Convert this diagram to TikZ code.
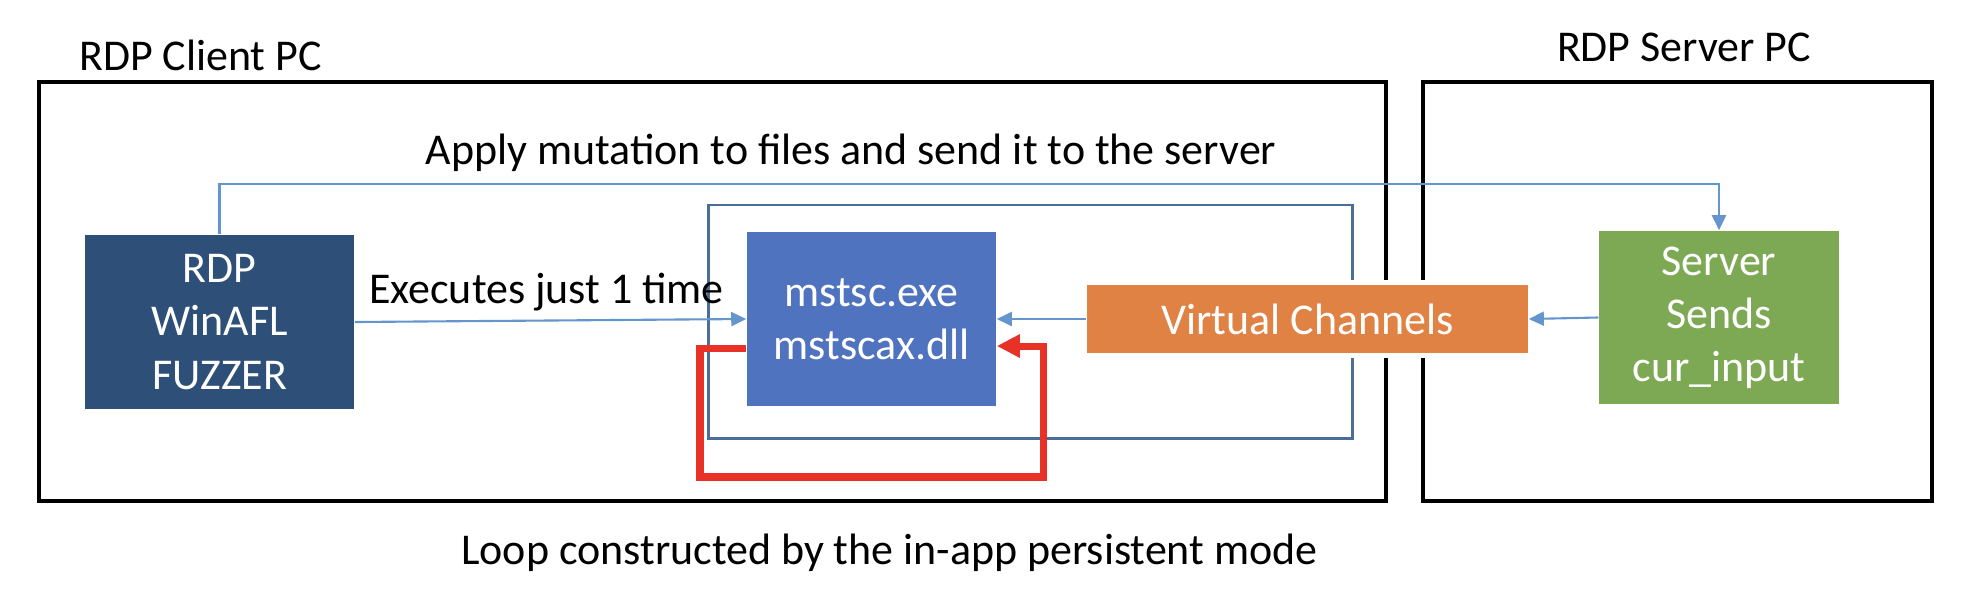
\documentclass[tikz,border=0pt]{standalone}
\usepackage{fontspec}
\setmainfont{Carlito}
\usetikzlibrary{arrows.meta,positioning}

\definecolor{fuzzblue}{RGB}{46,80,120}
\definecolor{appblue}{RGB}{79,115,190}
\definecolor{chanorange}{RGB}{224,130,68}
\definecolor{srvgreen}{RGB}{126,169,84}
\definecolor{framegray}{RGB}{74,110,153}
\definecolor{linkblue}{RGB}{100,150,205}
\definecolor{loopred}{RGB}{232,50,40}

\tikzset{
  block/.style={draw=none, text=white, align=center, inner sep=0pt, font=\fontsize{12.5}{15.1}\selectfont},
  link/.style={draw=linkblue, line width=0.6pt, -{Triangle[length=0.15cm,width=0.14cm]}},
  redloop/.style={draw=loopred, line width=2pt, -{Triangle[length=0.23cm,width=0.22cm]}},
  caption/.style={anchor=base, inner sep=0pt, font=\fontsize{12.5}{15.1}\selectfont}
}

\begin{document}
\begin{tikzpicture}[x=0.01cm, y=-0.01cm]
\useasboundingbox (0,0) rectangle (1980,606);

% Draw the two PCs
\draw[line width=1.1pt] (39,82) rectangle (1386,501);
\draw[line width=1.1pt] (1423,82) rectangle (1932,501);
\node[caption] (clientlabel) at (200.5,70) {RDP Client PC};
\node[caption] (serverlabel) at (1684,61) {RDP Server PC};

% Frame round the client application
\draw[framegray, line width=0.85pt] (708,205) rectangle (1352,438);

% Boxes
\node[block, fill=fuzzblue, minimum width=2.69cm, minimum height=1.74cm] (fuzz) at (219.5,322) {RDP\\WinAFL\\FUZZER};
\node[block, fill=appblue, minimum width=2.49cm, minimum height=1.74cm] (mstsc) at (871.5,319) {mstsc.exe\\mstscax.dll};
\node[block, fill=chanorange, minimum width=4.41cm, minimum height=0.68cm,
      preaction={draw=white, line width=0.09cm}] (vc) at (1307.5,319) {Virtual Channels};
\node[block, fill=srvgreen, minimum width=2.40cm, minimum height=1.73cm] (green) at (1719,317.5) {Server\\Sends\\cur\_input};

% Connectors
\coordinate (toprow) at (0,184);
\draw[link] (fuzz.north) |- (toprow -| green.north) -- (green.north);
\node[caption] (applylabel) at (851,164) {Apply mutation to files and send it to the server};
\draw[link] (fuzz.east) -- (mstsc.west);
\node[caption] (execlabel) at (546.5,303) {Executes just 1 time};
\draw[link] (vc.west) -- (mstsc.east);
\draw[link] (green.west) -- (vc.east);

% Persistent loop
\coordinate (loopA) at (700,477);
\coordinate (loopB) at (1043,477);
\draw[redloop] ([yshift=-0.29cm]mstsc.west) -| (loopA) -- (loopB) |- ([yshift=-0.27cm]mstsc.east);
\node[caption] (looplabel) at (889.5,564) {Loop constructed by the in-app persistent mode};
\end{tikzpicture}
\end{document}
